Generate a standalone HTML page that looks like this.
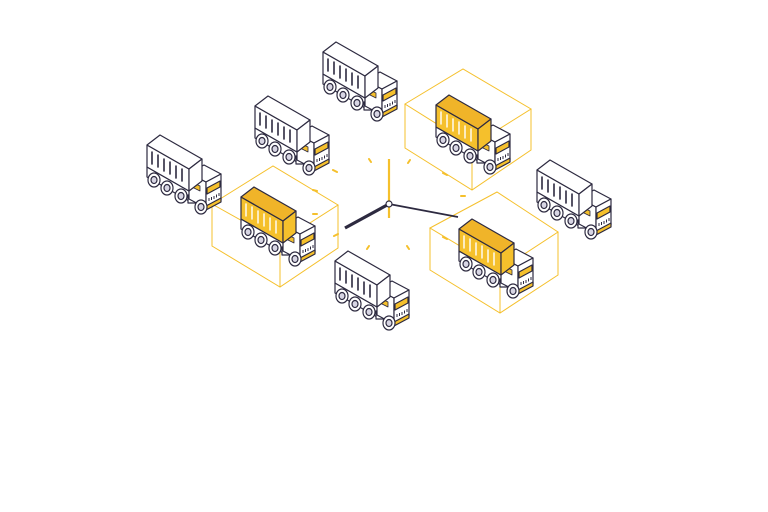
<!DOCTYPE html>
<html><head><meta charset="utf-8"><style>html,body{margin:0;padding:0;background:#fff}svg{display:block}</style></head>
<body>
<svg width="768" height="512" viewBox="0 0 768 512" xmlns="http://www.w3.org/2000/svg">
<defs>
<g id="base" stroke="#2d2a40" stroke-width="1.2" stroke-linejoin="round">
  <polygon points="3,34 45,58 58,50 58,60 45,68 3,44" fill="#fff"/>
  <ellipse cx="10" cy="47" rx="6" ry="7" fill="#fff"/><ellipse cx="10" cy="47" rx="3" ry="3.5" fill="#d8d6e4"/>
  <ellipse cx="23" cy="55" rx="6" ry="7" fill="#fff"/><ellipse cx="23" cy="55" rx="3" ry="3.5" fill="#d8d6e4"/>
  <ellipse cx="37" cy="63" rx="6" ry="7" fill="#fff"/><ellipse cx="37" cy="63" rx="3" ry="3.5" fill="#d8d6e4"/>
  <rect x="44" y="62" width="8" height="8" fill="#fff"/>
  <polygon points="45,40 62,49 62,75 45,66" fill="#fff"/>
  <polygon points="45,40 60,32 77,41 62,49" fill="#fff"/>
  <polygon points="62,49 77,41 77,67 62,75" fill="#fff"/>
  <polygon points="63,55 76,48 76,54 63,61" fill="#f5c02c"/>
  <polygon points="46,48 56,53 56,58 46,53" fill="#f5c02c" stroke-width="0.8"/>
  <polygon points="62,73 77,65 77,69 62,77" fill="#f5c02c"/>
  <path d="M65,68v-3M67.5,67v-3M70,66v-3M72.5,64.5v-3M75,63v-3" stroke-width="1"/>
  <ellipse cx="57" cy="74" rx="6" ry="7" fill="#fff"/><ellipse cx="57" cy="74" rx="3" ry="3.5" fill="#d8d6e4"/>
</g>
<g id="cw" stroke="#2d2a40" stroke-width="1.2" stroke-linejoin="round">
  <polygon points="3,12 45,36 45,58 3,34" fill="#fff"/>
  <polygon points="3,12 16,2 58,26 45,36" fill="#fff"/>
  <polygon points="45,36 58,26 58,48 45,58" fill="#fff"/>
  <path d="M8,19v12M14,22v12M20,26v12M26,29v12M32,33v12M38,36v12" stroke-width="1.6" stroke-linecap="round"/>
</g>
<g id="cy" stroke="#2d2a40" stroke-width="1.2" stroke-linejoin="round">
  <polygon points="3,12 45,36 45,58 3,34" fill="#f5c02c"/>
  <polygon points="3,12 16,2 58,26 45,36" fill="#f0b429"/>
  <polygon points="45,36 58,26 58,48 45,58" fill="#f5c02c"/>
  <path d="M8,19v12M14,22v12M20,26v12M26,29v12M32,33v12M38,36v12" stroke="#fff" stroke-width="1.4" stroke-linecap="round"/>
</g>
<g id="tw"><use href="#base"/><use href="#cw"/></g>
<g id="ty"><use href="#base"/><use href="#cy"/></g>
</defs>

<g fill="none" stroke="#f5c02c" stroke-width="1">
  <path d="M212,204 L273,166 L338,205 L280,242 Z M212,204 V246 L280,287 L338,248 V205 M280,242 V287"/>
  <path d="M405,104 L463,69 L531,109 L472,146 Z M405,104 V148 L472,190 L531,150 V109 M472,146 V190"/>
  <path d="M430,228 L497,192 L558,232 L500,270 Z M430,228 V270 L500,313 L558,275 V232 M500,270 V313"/>
</g>

<g stroke="#f5c02c" stroke-width="2" stroke-linecap="round">
  <path d="M369,159l2,3M410,160l-2,3M333,170l4,2M443,173l4,2M313,214l4,0M334,236l4,-2M367,249l2,-3M409,249l-2,-3M443,237l4,2M461,196l4,0M313,190l4,1"/>
</g>
<line x1="389" y1="159" x2="389" y2="218" stroke="#f5c02c" stroke-width="2.2"/>
<line x1="389" y1="204" x2="345" y2="228" stroke="#2d2a40" stroke-width="3.2"/>
<line x1="389" y1="204" x2="458" y2="217" stroke="#2d2a40" stroke-width="1.8"/>
<circle cx="389" cy="204" r="3" fill="#fff" stroke="#2d2a40" stroke-width="1.2"/>

<use href="#tw" x="320" y="40"/>
<use href="#tw" x="252" y="94"/>
<use href="#tw" x="144" y="133"/>
<use href="#tw" x="534" y="158"/>
<use href="#tw" x="332" y="249"/>
<use href="#ty" x="238" y="185"/>
<use href="#ty" x="433" y="93"/>
<use href="#ty" x="456" y="217"/>
</svg>
</body></html>
